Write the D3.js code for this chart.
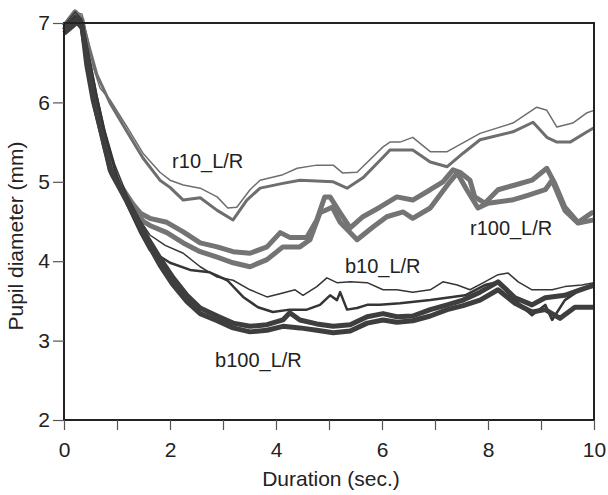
<!DOCTYPE html>
<html>
<head>
<meta charset="utf-8">
<script src="https://cdn.jsdelivr.net/npm/d3@7"></script>
<style>
  body { margin: 0; background: #fff; }
  svg text { font-family: "Liberation Sans", Arial, sans-serif; fill: #222; }
</style>
</head>
<body>
<svg id="chart" width="608" height="495"></svg>
<script>
//
//Data: [time (s), pupil diameter (mm)]
//

var r10A = [[0,6.97],[0.21,7.14],[0.34,7.11],[0.45,6.79],[0.55,6.45],[0.68,6.18],[0.87,6.03],[1.19,5.69],[1.49,5.36],[1.81,5.12],[2.0,5.02],[2.25,4.96],[2.57,4.92],[2.89,4.81],[3.09,4.67],[3.26,4.68],[3.51,4.9],[3.7,5.02],[4.13,5.09],[4.4,5.17],[4.77,5.21],[5.08,5.21],[5.26,5.11],[5.53,5.12],[6.02,5.44],[6.15,5.5],[6.34,5.5],[6.58,5.56],[6.91,5.38],[7.23,5.38],[7.85,5.61],[8.47,5.74],[8.92,5.94],[9.11,5.9],[9.3,5.69],[9.6,5.74],[9.87,5.87],[10,5.9]];
var r10B = [[0,6.94],[0.21,7.1],[0.34,7.04],[0.49,6.66],[0.62,6.35],[0.87,5.99],[1.19,5.63],[1.49,5.3],[1.81,5.02],[2.0,4.93],[2.25,4.77],[2.57,4.8],[2.89,4.64],[3.19,4.52],[3.45,4.77],[3.7,4.92],[4.13,4.98],[4.45,5.02],[5.08,5.0],[5.34,4.92],[5.64,5.05],[6.02,5.31],[6.15,5.4],[6.58,5.4],[6.91,5.25],[7.23,5.19],[7.53,5.36],[7.85,5.53],[8.47,5.63],[8.85,5.75],[9.11,5.56],[9.3,5.5],[9.55,5.5],[9.87,5.63],[10,5.68]];
var r100A = [[0,6.96],[0.21,7.14],[0.34,7.04],[0.45,6.5],[0.55,6.08],[0.74,5.58],[0.87,5.18],[1.06,4.96],[1.3,4.72],[1.45,4.6],[1.62,4.54],[1.94,4.49],[2.25,4.37],[2.57,4.23],[2.89,4.18],[3.19,4.12],[3.51,4.1],[3.83,4.18],[4.08,4.36],[4.26,4.3],[4.58,4.3],[4.77,4.52],[4.92,4.81],[5.02,4.81],[5.21,4.61],[5.4,4.42],[5.64,4.56],[5.96,4.68],[6.28,4.81],[6.58,4.77],[6.91,4.9],[7.15,5.0],[7.34,5.15],[7.47,5.12],[7.66,5.02],[7.75,4.81],[7.94,4.73],[8.19,4.9],[8.51,4.96],[8.83,5.02],[9.11,5.17],[9.26,4.98],[9.45,4.68],[9.7,4.49],[9.96,4.61],[10,4.61]];
var r100B = [[0,6.91],[0.21,7.06],[0.34,6.97],[0.47,6.44],[0.58,6.02],[0.77,5.5],[0.89,5.12],[1.09,4.9],[1.34,4.63],[1.5,4.5],[1.62,4.45],[1.94,4.36],[2.25,4.23],[2.57,4.12],[2.89,4.05],[3.19,3.98],[3.51,3.93],[3.83,4.02],[4.13,4.18],[4.45,4.18],[4.64,4.27],[4.83,4.61],[5.06,4.68],[5.21,4.49],[5.53,4.27],[5.83,4.43],[6.09,4.56],[6.4,4.62],[6.58,4.54],[6.91,4.67],[7.28,5.0],[7.42,5.11],[7.6,4.9],[7.81,4.67],[8.0,4.73],[8.45,4.77],[8.75,4.83],[9.08,4.9],[9.21,5.02],[9.45,4.64],[9.7,4.48],[10,4.52]];
var b10A = [[0,6.97],[0.21,7.14],[0.34,7.04],[0.49,6.53],[0.62,6.09],[0.77,5.65],[0.96,5.21],[1.19,4.83],[1.43,4.52],[1.62,4.33],[1.91,4.2],[2.25,4.1],[2.57,3.93],[2.89,3.8],[3.19,3.76],[3.51,3.64],[3.83,3.55],[4.13,3.6],[4.36,3.64],[4.51,3.57],[4.77,3.68],[4.96,3.79],[5.15,3.73],[5.4,3.74],[5.72,3.73],[6.02,3.64],[6.28,3.64],[6.58,3.61],[6.91,3.64],[7.15,3.74],[7.42,3.7],[7.66,3.64],[7.94,3.74],[8.19,3.83],[8.38,3.85],[8.57,3.74],[8.83,3.64],[9.21,3.64],[9.45,3.68],[9.77,3.7],[10,3.73]];
var b10B = [[0,6.94],[0.21,7.09],[0.34,6.99],[0.49,6.51],[0.62,6.06],[0.77,5.61],[0.96,5.15],[1.19,4.71],[1.43,4.37],[1.62,4.14],[2.0,3.98],[2.38,3.89],[2.75,3.86],[3.08,3.76],[3.38,3.55],[3.66,3.42],[3.94,3.36],[4.26,3.39],[4.58,3.39],[4.83,3.45],[5.02,3.57],[5.15,3.51],[5.21,3.61],[5.34,3.39],[5.53,3.41],[5.72,3.45],[5.96,3.45],[6.34,3.47],[6.91,3.51],[7.57,3.57],[7.94,3.7],[8.19,3.74],[8.51,3.51],[8.83,3.32],[9.08,3.45],[9.21,3.26],[9.45,3.51],[9.74,3.64],[10,3.68]];
var b100A = [[0,6.91],[0.25,7.06],[0.34,6.97],[0.43,6.47],[0.55,6.03],[0.74,5.53],[0.87,5.15],[1.06,4.93],[1.3,4.64],[1.57,4.3],[1.81,4.04],[2.06,3.79],[2.32,3.57],[2.57,3.41],[2.89,3.31],[3.19,3.22],[3.51,3.18],[3.83,3.2],[4.13,3.26],[4.26,3.35],[4.45,3.26],[4.77,3.21],[5.08,3.18],[5.4,3.2],[5.72,3.3],[6.02,3.34],[6.28,3.3],[6.58,3.31],[6.91,3.39],[7.23,3.45],[7.53,3.51],[7.85,3.61],[8.19,3.74],[8.51,3.54],[8.83,3.45],[9.08,3.54],[9.45,3.57],[9.74,3.64],[10,3.7]];
var b100B = [[0,6.87],[0.25,7.01],[0.34,6.94],[0.47,6.41],[0.58,5.97],[0.77,5.43],[0.91,5.09],[1.09,4.87],[1.34,4.56],[1.58,4.23],[1.81,3.95],[2.06,3.7],[2.32,3.49],[2.57,3.34],[2.89,3.25],[3.19,3.16],[3.51,3.11],[3.83,3.13],[4.13,3.18],[4.45,3.16],[4.77,3.13],[5.08,3.1],[5.4,3.12],[5.72,3.22],[6.02,3.26],[6.28,3.23],[6.58,3.25],[6.91,3.31],[7.23,3.39],[7.53,3.44],[7.85,3.51],[8.19,3.64],[8.51,3.47],[8.83,3.36],[9.08,3.39],[9.36,3.28],[9.64,3.42],[10,3.42]];

//Series labels and where they sit (data coords, left/baseline)
var labelNames = ["r10_L/R", "r100_L/R", "b10_L/R", "b100_L/R"];
var labelPos = [[2.04, 5.17], [7.66, 4.33], [5.3, 3.85], [2.85, 2.67]];

var xTicks = [0, 1, 2, 3, 4, 5, 6, 7, 8, 9, 10];
var xTickLabels = [0, 2, 4, 6, 8, 10];
var yTicks = [2, 3, 4, 5, 6, 7];

//
//Set up chart
//

var margin = {top: 23, left: 64, right: 14, bottom: 75};
var width = 608 - margin.left - margin.right;
var height = 495 - margin.top - margin.bottom;

var svg = d3.select("#chart");
var g = svg.append("g").attr("transform", "translate(" + margin.left + "," + margin.top + ")");

var x = d3.scaleLinear().domain([0, 10]).range([0, width]);
var y = d3.scaleLinear().domain([2, 7]).range([height, 0]);

var line = d3.line()
	.x(function(d) { return x(d[0]); })
	.y(function(d) { return y(d[1]); });

//Series styles: data, colour, width
var series = [
	[r10A, "#6e6e6e", 1.5],
	[r10B, "#6e6e6e", 3],
	[r100A, "#747474", 5],
	[r100B, "#747474", 5],
	[b10A, "#353535", 1.5],
	[b10B, "#353535", 2.5],
	[b100A, "#3e3e3e", 5],
	[b100B, "#3e3e3e", 5]
];

series.forEach(function(s) {
	g.append("path")
		.datum(s[0])
		.attr("d", line)
		.attr("fill", "none")
		.attr("stroke", s[1])
		.attr("stroke-width", s[2])
		.attr("stroke-linejoin", "round");
});

//Frame
g.append("rect")
	.attr("x", 0).attr("y", 0)
	.attr("width", width).attr("height", height)
	.attr("fill", "none")
	.attr("stroke", "#222")
	.attr("stroke-width", 2);

//Axes
var xAxis = d3.axisBottom(x)
	.tickValues(xTicks)
	.tickSize(10)
	.tickPadding(12)
	.tickFormat(function(d) { return xTickLabels.indexOf(d) >= 0 ? d : ""; });

var yAxis = d3.axisLeft(y)
	.tickValues(yTicks)
	.tickSize(11)
	.tickPadding(3)
	.tickFormat(d3.format("d"));

var gx = g.append("g").attr("transform", "translate(0," + height + ")").call(xAxis);
var gy = g.append("g").call(yAxis);

[gx, gy].forEach(function(a) {
	a.select(".domain").remove();
	a.selectAll(".tick line").attr("stroke", "#555").attr("stroke-width", 1.2);
	a.selectAll(".tick text")
		.style("font-family", "'Liberation Sans', Arial, sans-serif")
		.style("font-size", "21px")
		.attr("fill", "#222");
});

//Series labels
labelNames.forEach(function(name, i) {
	g.append("text")
		.attr("x", x(labelPos[i][0]))
		.attr("y", y(labelPos[i][1]))
		.style("font-size", "20px")
		.text(name);
});

//Axis titles
svg.append("text")
	.attr("x", 331)
	.attr("y", 486)
	.attr("text-anchor", "middle")
	.style("font-size", "21px")
	.text("Duration (sec.)");

svg.append("text")
	.attr("transform", "translate(23,236) rotate(-90)")
	.attr("text-anchor", "middle")
	.style("font-size", "21px")
	.text("Pupil diameter (mm)");
</script>
</body>
</html>
